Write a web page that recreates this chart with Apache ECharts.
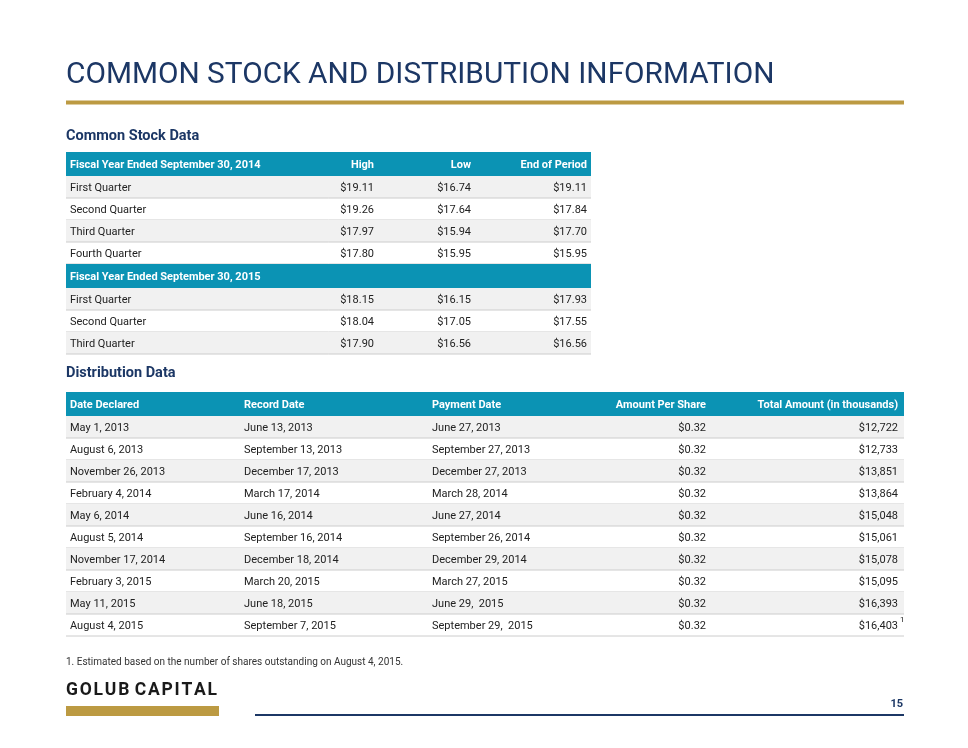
<!DOCTYPE html>
<html>
<head>
<meta charset="utf-8">
<title>Common Stock and Distribution Information</title>
<script src="https://cdn.jsdelivr.net/npm/echarts@6/dist/echarts.min.js"></script>
<style>
    html, body { margin: 0; padding: 0; background: #fff; }
    #slide { width: 968px; height: 748px; }
</style>
</head>
<body>
<div id="slide"></div>
<script>
//股票数据
const stockHeaders = ['High', 'Low', 'End of Period'];
const stockYear2014 = 'Fiscal Year Ended September 30, 2014';
const stockLabels2014 = ['First Quarter', 'Second Quarter', 'Third Quarter', 'Fourth Quarter'];
const stockHigh2014 = [19.11, 19.26, 17.97, 17.80];
const stockLow2014 = [16.74, 17.64, 15.94, 15.95];
const stockEnd2014 = [19.11, 17.84, 17.70, 15.95];
const stockYear2015 = 'Fiscal Year Ended September 30, 2015';
const stockLabels2015 = ['First Quarter', 'Second Quarter', 'Third Quarter'];
const stockHigh2015 = [18.15, 18.04, 17.90];
const stockLow2015 = [16.15, 17.05, 16.56];
const stockEnd2015 = [17.93, 17.55, 16.56];

//分红数据
const distHeaders = ['Date Declared', 'Record Date', 'Payment Date', 'Amount Per Share', 'Total Amount (in thousands)'];
const dateDeclared = ['May 1, 2013', 'August 6, 2013', 'November 26, 2013', 'February 4, 2014', 'May 6, 2014',
    'August 5, 2014', 'November 17, 2014', 'February 3, 2015', 'May 11, 2015', 'August 4, 2015'];
const recordDate = ['June 13, 2013', 'September 13, 2013', 'December 17, 2013', 'March 17, 2014', 'June 16, 2014',
    'September 16, 2014', 'December 18, 2014', 'March 20, 2015', 'June 18, 2015', 'September 7, 2015'];
const paymentDate = ['June 27, 2013', 'September 27, 2013', 'December 27, 2013', 'March 28, 2014', 'June 27, 2014',
    'September 26, 2014', 'December 29, 2014', 'March 27, 2015', 'June 29,  2015', 'September 29,  2015'];
const amountPerShare = [0.32, 0.32, 0.32, 0.32, 0.32, 0.32, 0.32, 0.32, 0.32, 0.32];
const totalAmount = [12722, 12733, 13851, 13864, 15048, 15061, 15078, 15095, 16393, 16403];
const footnote = '1. Estimated based on the number of shares outstanding on August 4, 2015.';

//样式
const navy = '#1c3765';
const gold = '#bc9a42';
const teal = '#0b93b4';
const stripe = '#f1f1f1';
const rule = '#cccccc';
const ink = '#222222';
const font = 'Roboto, "Liberation Sans", sans-serif';
const headerH = 24;
const rowH = 22;

let slide = echarts.init(document.getElementById('slide'), null, { renderer: 'canvas' });
let elements = [];

function money(v) {
    return '$' + v.toFixed(2);
}

function thousands(v) {
    return '$' + v.toLocaleString('en-US');
}

function rect(x, y, w, h, fill) {
    elements.push({ type: 'rect', shape: { x: x, y: y, width: w, height: h }, style: { fill: fill }, silent: true });
}

function line(x1, y1, x2, y2, color, width) {
    elements.push({ type: 'line', shape: { x1: x1, y1: y1, x2: x2, y2: y2 }, style: { stroke: color, lineWidth: width }, silent: true });
}

function text(str, x, y, opt) {
    opt = opt || {};
    elements.push({
        type: 'text', x: x, y: y, silent: true,
        style: {
            text: str,
            fill: opt.color || ink,
            font: (opt.weight || 'normal') + ' ' + (opt.size || 11) + 'px ' + font,
            textAlign: opt.align || 'left',
            textVerticalAlign: 'middle'
        }
    });
}

//表头行
function headerRow(x, y, w, cells) {
    rect(x, y, w, headerH, teal);
    cells.forEach(function (c) {
        text(c.text, c.x, y + headerH / 2 + 1, { color: '#fff', weight: 'bold', align: c.align });
    });
}

//数据行
function bodyRows(x, y, w, rows, cols) {
    rows.forEach(function (row, i) {
        let top = y + i * rowH;
        if (i % 2 === 0) rect(x, top, w, rowH, stripe);
        line(x, top + rowH, x + w, top + rowH, rule, 1);
        row.forEach(function (cell, j) {
            text(cell, cols[j].x, top + rowH / 2 + 1, { align: cols[j].align });
        });
    });
    return y + rows.length * rowH;
}

//页眉
text('COMMON STOCK AND DISTRIBUTION INFORMATION', 66, 76, { color: navy, size: 29.8 });
line(66, 102.5, 904, 102.5, gold, 4);

//股票表
text('Common Stock Data', 66, 136, { color: navy, size: 14.5, weight: 'bold' });
const stockX = 66, stockW = 525;
const stockCols = [
    { x: 70, align: 'left' },
    { x: 374, align: 'right' },
    { x: 471, align: 'right' },
    { x: 587, align: 'right' }
];
function stockRows(labels, high, low, end) {
    return labels.map(function (l, i) {
        return [l, money(high[i]), money(low[i]), money(end[i])];
    });
}
let y = 152;
headerRow(stockX, y, stockW, [
    { text: stockYear2014, x: stockCols[0].x, align: 'left' },
    { text: stockHeaders[0], x: stockCols[1].x, align: 'right' },
    { text: stockHeaders[1], x: stockCols[2].x, align: 'right' },
    { text: stockHeaders[2], x: stockCols[3].x, align: 'right' }
]);
y = bodyRows(stockX, y + headerH, stockW, stockRows(stockLabels2014, stockHigh2014, stockLow2014, stockEnd2014), stockCols);
headerRow(stockX, y, stockW, [{ text: stockYear2015, x: stockCols[0].x, align: 'left' }]);
y = bodyRows(stockX, y + headerH, stockW, stockRows(stockLabels2015, stockHigh2015, stockLow2015, stockEnd2015), stockCols);

//分红表
text('Distribution Data', 66, 373, { color: navy, size: 14.5, weight: 'bold' });
const distX = 66, distW = 838;
const distCols = [
    { x: 70, align: 'left' },
    { x: 244, align: 'left' },
    { x: 432, align: 'left' },
    { x: 706, align: 'right' },
    { x: 898, align: 'right' }
];
y = 392;
headerRow(distX, y, distW, distHeaders.map(function (h, j) {
    return { text: h, x: distCols[j].x, align: distCols[j].align };
}));
let distRows = dateDeclared.map(function (d, i) {
    return [d, recordDate[i], paymentDate[i], money(amountPerShare[i]), thousands(totalAmount[i])];
});
let distTop = y + headerH;
y = bodyRows(distX, distTop, distW, distRows, distCols);
//脚注标记
text('1', 900, distTop + (distRows.length - 1) * rowH + 6, { size: 8 });

//脚注
text(footnote, 66, 662, { size: 10, color: '#333' });

//页脚
elements.push({
    type: 'text', x: 66, y: 691, silent: true,
    style: {
        text: 'G O L U B   C A P I T A L'.replace(/ /g, '\u200a'),
        fill: '#1a1a1a',
        font: 'bold 17.5px ' + font,
        textAlign: 'left',
        textVerticalAlign: 'middle'
    }
});
rect(66, 706, 153, 10, gold);
line(255, 715, 904, 715, navy, 2);
text('15', 903, 704, { color: navy, size: 11, weight: 'bold', align: 'right' });

slide.setOption({
    backgroundColor: '#fff',
    animation: false,
    graphic: { elements: elements }
});

window.addEventListener('resize', function () {
    slide.resize();
});
</script>
</body>
</html>
